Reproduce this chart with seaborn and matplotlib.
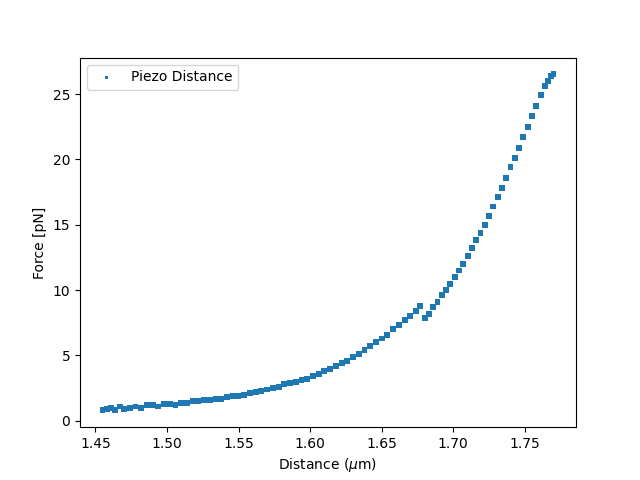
import matplotlib
matplotlib.use("Agg")
import matplotlib.pyplot as plt
import seaborn as sns

# Points (distance in um, force in pN)
distance = [
    1.455, 1.458, 1.461, 1.464, 1.467, 1.470, 1.474, 1.478, 1.482, 1.486,
    1.490, 1.494, 1.498, 1.502, 1.506, 1.510, 1.514, 1.518, 1.522, 1.526,
    1.530, 1.534, 1.538, 1.542, 1.546, 1.550, 1.554, 1.558, 1.562, 1.566,
    1.570, 1.574, 1.578, 1.582, 1.586, 1.590, 1.594, 1.598, 1.602, 1.606,
    1.610, 1.614, 1.618, 1.622, 1.626, 1.630, 1.634, 1.638, 1.642, 1.646,
    1.650, 1.654, 1.658, 1.662, 1.666, 1.670, 1.674, 1.677, 1.680, 1.683,
    1.686, 1.689, 1.692, 1.695, 1.698, 1.701, 1.704, 1.707, 1.710, 1.713,
    1.716, 1.719, 1.722, 1.725, 1.728, 1.731, 1.734, 1.737, 1.740, 1.743,
    1.746, 1.749, 1.752, 1.755, 1.758, 1.761, 1.764, 1.766, 1.768, 1.770,
]
force = [
    0.8, 0.9, 1.0, 0.8, 1.1, 0.9, 1.0, 1.1, 1.0, 1.2,
    1.2, 1.1, 1.3, 1.3, 1.2, 1.4, 1.4, 1.5, 1.5, 1.6,
    1.6, 1.7, 1.7, 1.8, 1.9, 1.9, 2.0, 2.1, 2.2, 2.3,
    2.4, 2.5, 2.6, 2.8, 2.9, 3.0, 3.1, 3.2, 3.4, 3.6,
    3.8, 4.0, 4.2, 4.4, 4.6, 4.9, 5.1, 5.4, 5.7, 6.0,
    6.3, 6.6, 7.0, 7.3, 7.7, 8.0, 8.4, 8.8, 7.9, 8.2,
    8.7, 9.1, 9.6, 10.0, 10.5, 11.0, 11.5, 12.0, 12.6, 13.2,
    13.8, 14.4, 15.0, 15.7, 16.4, 17.1, 17.8, 18.6, 19.4, 20.1,
    20.9, 21.7, 22.5, 23.3, 24.1, 24.9, 25.6, 26.0, 26.4, 26.5,
]

fig, ax = plt.subplots(figsize=(6.4, 4.8), dpi=100)
sns.scatterplot(x=distance, y=force, s=18, marker="s", color="#1f77b4",
                edgecolor="none", label="Piezo Distance", ax=ax)
ax.set_xlabel(r"Distance ($\mu$m)")
ax.set_ylabel("Force [pN]")
ax.legend(loc="upper left", markerscale=0.4)
fig.savefig("out.png")
